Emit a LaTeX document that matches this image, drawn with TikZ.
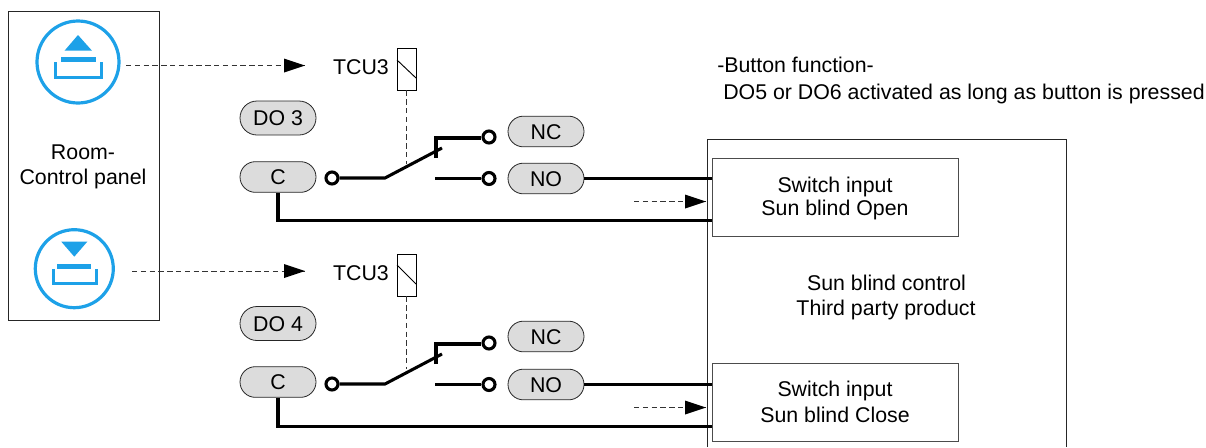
\documentclass[tikz,border=0pt]{standalone}
\usepackage{fontspec}
\setmainfont{Liberation Sans}
\usetikzlibrary{shapes.misc,arrows.meta}
\definecolor{iconblue}{HTML}{1DA1E8}
\definecolor{pillgrey}{HTML}{DCDCDC}
\tikzset{
  lbl/.style={inner sep=0pt,text height=11.4pt,text depth=0pt,font=\fontsize{16pt}{18pt}\selectfont},
  pill/.style={rounded rectangle,draw=black!85,line width=0.6pt,fill=pillgrey,minimum width=57pt,inner sep=0pt,text height=11.4pt,text depth=0pt,font=\fontsize{16pt}{18pt}\selectfont},
  frame/.style={draw=black!85,line width=0.75pt,fill=none},
  wire/.style={line width=2.3pt,black},
  term/.style={circle,draw=black,line width=2.3pt,fill=white,minimum size=9pt,inner sep=0pt},
  coilbox/.style={draw=black,line width=0.7pt,fill=white,minimum width=14.2pt,minimum height=31.5pt,inner sep=0pt},
  act/.style={dashed,dash pattern=on 4pt off 2.6pt,line width=0.7pt,black!80}
}
\begin{document}
\begin{tikzpicture}[x=0.75pt,y=-0.75pt]
\useasboundingbox (0,0) rectangle (1206,447);
% room panel and third-party frames
\node[frame,draw,minimum width=113.25pt,minimum height=232pt,anchor=north west,inner sep=0pt] (panel) at (7.5,10.5) {};
\draw[frame] (707,447) -- (707,139) -- (1066,139) -- (1066,447);
\node[draw=black!70,line width=0.9pt,fill=white,anchor=north west,minimum width=184.5pt,minimum height=58.5pt,inner sep=0pt] (inA) at (712,158) {};
\node[draw=black!70,line width=0.9pt,fill=white,anchor=north west,minimum width=184.5pt,minimum height=58.5pt,inner sep=0pt] (inB) at (712,363) {};
% icons
\node[circle,draw=iconblue,line width=2.4pt,minimum size=61.5pt,inner sep=0pt] (up) at (78,62) {};
\fill[iconblue] (78,35) -- (92,50.7) -- (64.5,50.7) -- cycle;
\fill[iconblue] (60.7,57) rectangle (96,62);
\draw[iconblue,line width=2.3pt] (55.8,62) -- (55.8,77.5) -- (101.5,77.5) -- (101.5,62);
\node[circle,draw=iconblue,line width=2.4pt,minimum size=58.5pt,inner sep=0pt] (down) at (74.3,268.7) {};
\fill[iconblue] (61.3,241.7) -- (87.3,241.7) -- (74.3,256.7) -- cycle;
\fill[iconblue] (57.3,263.7) rectangle (91.3,268.7);
\draw[iconblue,line width=2.3pt] (53.2,269) -- (53.2,283.5) -- (96.2,283.5) -- (96.2,269);
% texts
\node[lbl] (room) at (83,152) {Room-};
\node[lbl] (cp) at (83,177) {Control panel};
\node[lbl,anchor=base west] (bf1) at (717,72) {-Button function-};
\node[lbl,anchor=base west] (bf2) at (723,99) {DO5 or DO6 activated as long as button is pressed};
\node[lbl] (sb1) at (886.5,282.5) {Sun blind control};
\node[lbl] (sb2) at (886,308) {Third party product};
\node[lbl] (a1) at (835,185) {Switch input};
\node[lbl] (a2) at (835,207.5) {Sun blind Open};
\node[lbl] (b1) at (835,389) {Switch input};
\node[lbl] (b2) at (835,414.5) {Sun blind Close};
\node[lbl] (tcuA) at (361,67) {TCU3};
\node[lbl] (tcuB) at (361,273) {TCU3};
% pills
\node[pill,minimum height=25.5pt] (do3) at (278,118) {DO 3};
\node[pill,minimum height=23pt] (c3) at (278,177) {C};
\node[pill,minimum height=23pt] (nc3) at (546,131.5) {NC};
\node[pill,minimum height=23pt] (no3) at (546,178.5) {NO};
\node[pill,minimum height=25.5pt] (do4) at (278,323.5) {DO 4};
\node[pill,minimum height=23pt] (c4) at (278,382) {C};
\node[pill,minimum height=23pt] (nc4) at (546,336.5) {NC};
\node[pill,minimum height=23pt] (no4) at (546,384.5) {NO};
% coils
\node[coilbox] (coilA) at (406.5,69) {};
\draw[line width=0.7pt] (397,60) -- (416,78);
\node[coilbox] (coilB) at (406.5,275) {};
\draw[line width=0.7pt] (397,265) -- (416,284);
% junctions
\coordinate (pivA) at (385,178);
\coordinate (bladeA) at (442,148);
\coordinate (ncbA) at (436,138);
\coordinate (ncfA) at (436,158);
\coordinate (nofA) at (435,178.5);
\coordinate (wiperA) at (406.5,164);
\coordinate (pivB) at (385,384);
\coordinate (bladeB) at (442,354);
\coordinate (ncbB) at (436,344);
\coordinate (ncfB) at (436,364);
\coordinate (nofB) at (435,384.5);
\coordinate (wiperB) at (406.5,369);
\coordinate (retA) at (278,220.5);
\coordinate (retB) at (278,426.5);
\coordinate (actAs) at (126,65.5);
\coordinate (actAe) at (305,65.5);
\coordinate (actBs) at (132,271);
\coordinate (actBe) at (305,271);
\coordinate (actCs) at (634,201.5);
\coordinate (actCe) at (706,201.5);
\coordinate (actDs) at (634,407.5);
\coordinate (actDe) at (706,407.5);
% wires
\draw[wire] (c3.south) -- (retA) -- (retA -| inA.west);
\draw[wire] (c4.south) -- (retB) -- (retB -| inB.west);
\draw[wire] (no3.east) -- (no3.east -| inA.west);
\draw[wire] (no4.east) -- (no4.east -| inB.west);
\node[term] (tc3) at (332,178) {};
\node[term] (tnc3) at (489,137) {};
\node[term] (tno3) at (489,178.5) {};
\node[term] (tc4) at (332,384) {};
\node[term] (tnc4) at (489,343) {};
\node[term] (tno4) at (489,384.5) {};
\draw[wire,line join=miter] (tc3.east) -- (pivA) -- (bladeA);
\draw[wire,line join=miter] (ncfA) -- (ncbA) -- (tnc3.west |- ncbA);
\draw[wire] (nofA) -- (tno3.west);
\draw[wire,line join=miter] (tc4.east) -- (pivB) -- (bladeB);
\draw[wire,line join=miter] (ncfB) -- (ncbB) -- (tnc4.west |- ncbB);
\draw[wire] (nofB) -- (tno4.west);
% actuation
\draw[act] (coilA.south) -- (wiperA);
\draw[act] (coilB.south) -- (wiperB);
\draw[act] (actAs) -- (actAe);
\draw[act] (actBs) -- (actBe);
\draw[act] (actCs) -- (actCe);
\draw[act] (actDs) -- (actDe);
\fill (actAe) -- ++(-21,-7) -- ++(0,14) -- cycle;
\fill (actBe) -- ++(-21,-7) -- ++(0,14) -- cycle;
\fill (actCe) -- ++(-21,-7) -- ++(0,14) -- cycle;
\fill (actDe) -- ++(-21,-7) -- ++(0,14) -- cycle;
\end{tikzpicture}
\end{document}
